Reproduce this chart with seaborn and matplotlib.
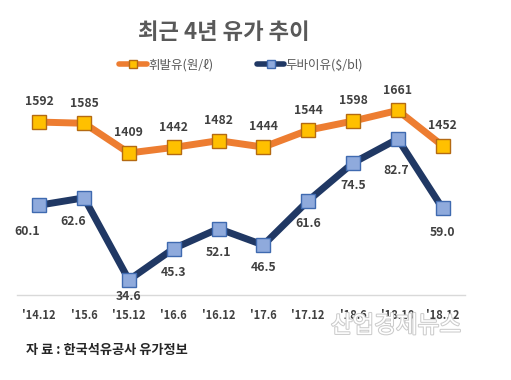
import matplotlib
matplotlib.use("Agg")
import matplotlib.pyplot as plt
import matplotlib.patheffects as pe
from matplotlib.lines import Line2D
import seaborn as sns
import pandas as pd

periods = ["'14.12", "'15.6", "'15.12", "'16.6", "'16.12", "'17.6", "'17.12", "'18.6", "'18.10", "'18.12"]
gasoline = [1592, 1585, 1409, 1442, 1482, 1444, 1544, 1598, 1661, 1452]
dubai = [60.1, 62.6, 34.6, 45.3, 52.1, 46.5, 61.6, 74.5, 82.7, 59.0]

sns.set_theme(style="white")
plt.rcParams['font.family'] = ['Noto Sans CJK KR', 'DejaVu Sans']

df = pd.DataFrame({"기간": periods, "휘발유": gasoline, "두바이유": dubai})
df["x"] = range(len(df))

fig = plt.figure(figsize=(5.11, 3.8), dpi=100)
ax = fig.add_axes([0.033, 0.224, 0.877, 0.513])
ax2 = ax.twinx()

orange = "#ED7D31"
navy = "#203864"
txt = "#404040"

sns.lineplot(data=df, x="x", y="휘발유", ax=ax, color=orange, linewidth=5,
             marker="s", markersize=10, markerfacecolor="#FFC000",
             markeredgecolor="#B46A12", markeredgewidth=1)
sns.lineplot(data=df, x="x", y="두바이유", ax=ax2, color=navy, linewidth=5,
             marker="s", markersize=10, markerfacecolor="#8FAADC",
             markeredgecolor="#3F6AB0", markeredgewidth=1)

ax.set_ylim(569, 1723)
ax2.set_ylim(29.5, 96)
ax.set_xlim(-0.5, 9.5)

for i, v in enumerate(gasoline):
    ax.annotate(f"{v}", (i, v), xytext=(0, 14.5), textcoords="offset points",
                ha="center", va="center", fontsize=8.8, fontweight="bold", color=txt)

# 두바이유 라벨: 선과 겹치지 않게 일부 위치 조정
dx = [-9, -8, 0, 0, 0, 0, 0, 0, -1, 0]
dy = [-19, -17, -12, -17, -17, -16, -16, -16, -23, -17]
for i, v in enumerate(dubai):
    ax2.annotate(f"{v:.1f}", (i, v), xytext=(dx[i], dy[i]), textcoords="offset points",
                 ha="center", va="center", fontsize=8.8, fontweight="bold", color=txt)

ax.set_xticks(df["x"])
ax.set_xticklabels(periods, fontsize=8, fontweight="bold", color=txt)
ax.tick_params(axis="x", length=0, pad=10)
ax.set_yticks([])
ax2.set_yticks([])
ax.set_xlabel("")
ax.set_ylabel("")
ax2.set_ylabel("")
for a in (ax, ax2):
    for s in ["top", "left", "right", "bottom"]:
        a.spines[s].set_visible(False)
ax.spines["bottom"].set_visible(True)
ax.spines["bottom"].set_color("#D9D9D9")
ax.spines["bottom"].set_linewidth(1)

fig.text(0.438, 0.915, "최근 4년 유가 추이", ha="center", va="center",
         fontsize=16, fontweight="bold", color="#595959")

handles = [
    Line2D([], [], color=orange, linewidth=4, marker="s", markersize=6,
           markerfacecolor="#FFC000", markeredgecolor="#B46A12"),
    Line2D([], [], color=navy, linewidth=4, marker="s", markersize=6,
           markerfacecolor="#8FAADC", markeredgecolor="#3F6AB0"),
]
fig.legend(handles, ["휘발유(원/ℓ)", "두바이유($/bl)"], loc="center",
           bbox_to_anchor=(0.472, 0.83), ncol=2, frameon=False, fontsize=9,
           handlelength=2.2, handletextpad=0.1, columnspacing=3.5,
           labelcolor="#595959")

fig.text(0.05, 0.08, "자 료 : 한국석유공사 유가정보", ha="left", va="center",
         fontsize=9.5, fontweight="bold", color="#262626")

# 워터마크
fig.text(0.775, 0.142, "산업경제뉴스", ha="center", va="center", fontsize=17,
         color="white",
         path_effects=[pe.withStroke(linewidth=1.5, foreground="#CCCCCC")])

fig.savefig("out.png", dpi=100)
